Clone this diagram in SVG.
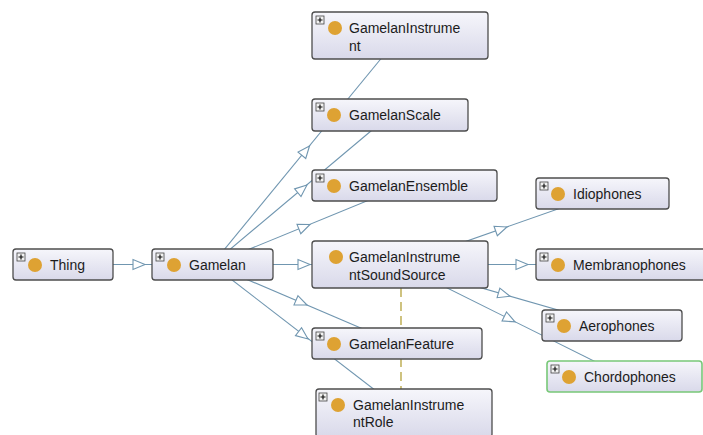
<svg xmlns="http://www.w3.org/2000/svg" width="703" height="435" viewBox="0 0 703 435">
<defs>
<linearGradient id="nodeFill" x1="0" y1="0" x2="0" y2="1">
<stop offset="0" stop-color="#f6f6fb"/>
<stop offset="1" stop-color="#d9d9ea"/>
</linearGradient>
<path id="ah" d="M0,0 L-12,-5 L-12,5 Z"/>
<g id="plus">
<rect x="0" y="0" width="8" height="8" fill="#f2f2f2" stroke="#444" stroke-width="0.8"/>
<path d="M1.5,4 H6.5 M4,1.5 V6.5" stroke="#111" stroke-width="1.2"/>
</g>
</defs>
<style>
.box{fill:url(#nodeFill);stroke:#4d4d4d;stroke-width:1.3}
.sel{fill:url(#nodeFill);stroke:#78c878;stroke-width:1.6}
.dot{fill:#dea233}
.lbl{font-family:"Liberation Sans",Arial,sans-serif;font-size:14px;fill:#1c1c1c}
.edge{stroke:#7096b0;stroke-width:1.1;fill:none}
.head{fill:#ffffff;stroke:#7096b0;stroke-width:1.1}
.dash{stroke:#b5a33c;stroke-width:1.3;stroke-dasharray:9,5;fill:none}
</style>
<rect width="703" height="435" fill="#ffffff"/>

<g id="connectors">
<line class="edge" x1="63" y1="264.5" x2="212" y2="264.5"/>
<line class="edge" x1="212" y1="264.5" x2="400" y2="264.5"/>
<line class="edge" x1="212" y1="264.5" x2="400" y2="35.5"/>
<line class="edge" x1="212" y1="264.5" x2="390" y2="115"/>
<line class="edge" x1="212" y1="264.5" x2="404.5" y2="185.5"/>
<line class="edge" x1="212" y1="264.5" x2="397" y2="343.5"/>
<line class="edge" x1="212" y1="264.5" x2="404" y2="412.5"/>
<line class="edge" x1="400" y1="264.5" x2="602" y2="193.5"/>
<line class="edge" x1="400" y1="264.5" x2="620" y2="264.5"/>
<line class="edge" x1="400" y1="264.5" x2="612" y2="325.5"/>
<line class="edge" x1="400" y1="264.5" x2="625" y2="376.5"/>
<line class="dash" x1="401" y1="288" x2="401" y2="389"/>
<use href="#ah" class="head" transform="translate(145,264.5)"/>
<use href="#ah" class="head" transform="translate(310,264.5)"/>
<use href="#ah" class="head" transform="translate(309.5,146) rotate(-50.55)"/>
<use href="#ah" class="head" transform="translate(307,185) rotate(-39.9)"/>
<use href="#ah" class="head" transform="translate(310,224.5) rotate(-22.2)"/>
<use href="#ah" class="head" transform="translate(307,305) rotate(23.25)"/>
<use href="#ah" class="head" transform="translate(308,339) rotate(37.7)"/>
<use href="#ah" class="head" transform="translate(507,227) rotate(-19.4)"/>
<use href="#ah" class="head" transform="translate(528,264.5)"/>
<use href="#ah" class="head" transform="translate(510,296.2) rotate(16.05)"/>
<use href="#ah" class="head" transform="translate(515,321.8) rotate(26.5)"/>
</g>

<g id="node-GamelanInstrument">
<rect class="box" x="312" y="12" width="176" height="47" rx="3"/>
<use href="#plus" x="316" y="16"/>
<circle class="dot" cx="335" cy="28" r="7"/>
<text class="lbl" x="349" y="33">GamelanInstrume</text>
<text class="lbl" x="349" y="51">nt</text>
</g>

<g id="node-GamelanScale">
<rect class="box" x="312" y="99" width="156" height="32" rx="3"/>
<use href="#plus" x="316" y="103"/>
<circle class="dot" cx="334" cy="115" r="7"/>
<text class="lbl" x="349" y="120">GamelanScale</text>
</g>

<g id="node-GamelanEnsemble">
<rect class="box" x="312" y="170" width="185" height="31" rx="3"/>
<use href="#plus" x="316" y="174"/>
<circle class="dot" cx="334" cy="186" r="7"/>
<text class="lbl" x="349" y="191">GamelanEnsemble</text>
</g>

<g id="node-GamelanInstrumentSoundSource">
<rect class="box" x="312" y="241" width="176" height="47" rx="3"/>
<circle class="dot" cx="336" cy="257" r="7"/>
<text class="lbl" x="349" y="262">GamelanInstrume</text>
<text class="lbl" x="349" y="280">ntSoundSource</text>
</g>

<g id="node-GamelanFeature">
<rect class="box" x="312" y="328" width="170" height="31" rx="3"/>
<use href="#plus" x="316" y="332"/>
<circle class="dot" cx="334" cy="344" r="7"/>
<text class="lbl" x="349" y="349">GamelanFeature</text>
</g>

<g id="node-GamelanInstrumentRole">
<rect class="box" x="316" y="389" width="176" height="48" rx="3"/>
<use href="#plus" x="319" y="393"/>
<circle class="dot" cx="338" cy="405" r="7"/>
<text class="lbl" x="353" y="410">GamelanInstrume</text>
<text class="lbl" x="353" y="427">ntRole</text>
</g>

<g id="node-Thing">
<rect class="box" x="13" y="249" width="100" height="31" rx="3"/>
<use href="#plus" x="17" y="253"/>
<circle class="dot" cx="35" cy="265" r="7"/>
<text class="lbl" x="50" y="270">Thing</text>
</g>

<g id="node-Gamelan">
<rect class="box" x="152" y="249" width="121" height="31" rx="3"/>
<use href="#plus" x="156" y="253"/>
<circle class="dot" cx="174" cy="265" r="7"/>
<text class="lbl" x="189" y="270">Gamelan</text>
</g>

<g id="node-Idiophones">
<rect class="box" x="536" y="178" width="133" height="31" rx="3"/>
<use href="#plus" x="540" y="182"/>
<circle class="dot" cx="558" cy="194" r="7"/>
<text class="lbl" x="573" y="199">Idiophones</text>
</g>

<g id="node-Membranophones">
<rect class="box" x="536" y="249" width="172" height="31" rx="3"/>
<use href="#plus" x="540" y="253"/>
<circle class="dot" cx="558" cy="265" r="7"/>
<text class="lbl" x="573" y="270">Membranophones</text>
</g>

<g id="node-Aerophones">
<rect class="box" x="542" y="310" width="140" height="31" rx="3"/>
<use href="#plus" x="546" y="314"/>
<circle class="dot" cx="564" cy="326" r="7"/>
<text class="lbl" x="579" y="331">Aerophones</text>
</g>

<g id="node-Chordophones">
<rect class="sel" x="547" y="361" width="155" height="31" rx="3"/>
<use href="#plus" x="551" y="365"/>
<circle class="dot" cx="569" cy="377" r="7"/>
<text class="lbl" x="584" y="382">Chordophones</text>
</g>
</svg>
